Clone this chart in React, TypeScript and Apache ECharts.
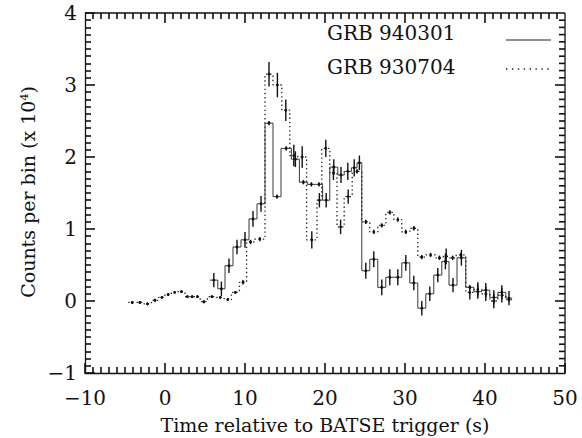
import React, { useEffect, useRef } from "react";
import * as echarts from "echarts";

const FONT = '"DejaVu Serif", "Liberation Serif", serif';
const INK = "#111";
const TICK_W = 1.6;
const MAJOR_LEN = 10;
const MINOR_LEN = 6;

// Axis ticks (major), each major interval is split into ten minor steps
const xTicks = [-10, 0, 10, 20, 30, 40, 50];
const yTicks = [-1, 0, 1, 2, 3, 4];
const minorSplit = 10;

// GRB 940301: bin edges (s), counts per bin (x 10^4), 1-sigma errors
const grb940301Edges = [
  5.6, 6.6, 7.5, 8.5, 9.5, 10.5, 11.5, 12.5, 13.5, 14.5, 15.8, 16.8, 17.8, 18.8, 19.7, 20.6, 21.6, 22.4, 23.3, 24.0,
  24.6, 25.6, 26.6, 27.6, 28.6, 29.6, 30.6, 31.6, 32.6, 33.6, 34.6, 35.5, 36.5, 37.6, 38.6, 39.6, 40.6, 41.6, 42.6, 43.4,
];
const grb940301Counts = [
  0.29, 0.17, 0.49, 0.75, 0.85, 1.14, 1.35, 2.47, 1.45, 2.12, 1.97, 1.65, 1.62, 1.62, 1.4, 1.86, 1.75, 1.8, 1.85, 1.92,
  0.42, 0.58, 0.19, 0.33, 0.33, 0.53, 0.25, -0.1, 0.1, 0.36, 0.55, 0.22, 0.6, 0.19, 0.13, 0.15, 0.05, 0.12, 0.04,
];
const grb940301Errors = [
  0.1, 0.1, 0.1, 0.1, 0.11, 0.11, 0.11, 0.03, 0.03, 0.03, 0.11, 0.03, 0.03, 0.03, 0.1, 0.11, 0.11, 0.12, 0.12, 0.1,
  0.11, 0.11, 0.11, 0.11, 0.11, 0.11, 0.1, 0.1, 0.1, 0.1, 0.11, 0.1, 0.11, 0.03, 0.1, 0.1, 0.1, 0.1, 0.1,
];

// GRB 930704: bin edges (s), counts per bin (x 10^4), 1-sigma errors
const grb930704Edges = [
  -4.6, -3.6, -2.7, -1.7, -0.8, 0.0, 0.8, 1.6, 2.5, 3.1, 3.7, 4.4, 5.3, 6.4, 7.4, 8.3, 9.3, 10.2, 11.2, 12.5, 13.5,
  14.6, 15.6, 16.6, 17.7, 19.0, 19.6, 20.6, 21.5, 22.4, 23.4, 24.6, 25.6, 26.6, 27.6, 28.6, 29.6, 30.6, 31.6, 32.6,
  33.8, 34.8, 35.5, 36.4, 37.6, 38.6, 39.6, 40.6, 41.6, 42.6, 43.4,
];
const grb930704Counts = [
  -0.02, -0.02, -0.04, 0.01, 0.05, 0.09, 0.12, 0.13, 0.06, 0.06, 0.06, -0.01, 0.06, 0.05, 0.02, 0.12, 0.26, 0.82, 0.86,
  3.15, 3.0, 2.65, 2.02, 2.0, 0.85, 1.4, 2.12, 1.78, 1.03, 1.45, 1.8, 1.1, 0.96, 1.05, 1.23, 1.13, 0.96, 1.01, 0.61,
  0.64, 0.6, 0.62, 0.6, 0.64, 0.12, 0.16, 0.1, 0.0, 0.08, 0.02,
];
const grb930704Errors = [
  0.02, 0.02, 0.02, 0.02, 0.02, 0.02, 0.02, 0.02, 0.02, 0.02, 0.02, 0.02, 0.02, 0.02, 0.02, 0.02, 0.03, 0.03, 0.03,
  0.17, 0.17, 0.15, 0.15, 0.15, 0.12, 0.1, 0.12, 0.1, 0.1, 0.1, 0.03, 0.03, 0.03, 0.03, 0.03, 0.03, 0.03, 0.03, 0.03,
  0.03, 0.03, 0.11, 0.03, 0.03, 0.1, 0.1, 0.1, 0.1, 0.1, 0.03,
];

const legendNames = ["GRB 940301", "GRB 930704"];

// Histogram outline: each bin is a flat segment from its left edge to its right edge
function stepOutline(edges: number[], counts: number[]) {
  const pts: number[][] = [];
  counts.forEach((v, i) => {
    pts.push([edges[i], v], [edges[i + 1], v]);
  });
  return pts;
}

function binErrors(edges: number[], counts: number[], errs: number[]) {
  return counts.map((v, i) => [(edges[i] + edges[i + 1]) / 2, v, errs[i]]);
}

function errorBarSeries(data: number[][]) {
  return {
    type: "custom",
    data,
    encode: { x: 0, y: 1 },
    silent: true,
    z: 5,
    renderItem: (_params: any, api: any) => {
      const x = api.value(0);
      const y = api.value(1);
      const e = api.value(2);
      const top = api.coord([x, y + e]);
      const bot = api.coord([x, y - e]);
      const c = api.coord([x, y]);
      return {
        type: "group",
        children: [
          {
            type: "line",
            shape: { x1: top[0], y1: top[1], x2: bot[0], y2: bot[1] },
            style: { stroke: INK, lineWidth: 1.4 },
          },
          { type: "circle", shape: { cx: c[0], cy: c[1], r: 1.4 }, style: { fill: INK } },
        ],
      };
    },
  };
}

// Top and right sides of the frame, with the same inward ticks as the bottom and left axes
function mirroredFrameSeries() {
  const xMin = xTicks[0];
  const xMax = xTicks[xTicks.length - 1];
  const yMin = yTicks[0];
  const yMax = yTicks[yTicks.length - 1];
  const xMinor = (xTicks[1] - xTicks[0]) / minorSplit;
  const yMinor = (yTicks[1] - yTicks[0]) / minorSplit;
  return {
    type: "custom",
    data: [[0, 0]],
    encode: { x: 0, y: 1 },
    silent: true,
    z: 6,
    renderItem: (_params: any, api: any) => {
      const lo = api.coord([xMin, yMin]);
      const hi = api.coord([xMax, yMax]);
      const children: any[] = [
        { type: "line", shape: { x1: lo[0], y1: hi[1], x2: hi[0], y2: hi[1] }, style: { stroke: INK, lineWidth: 1.3 } },
        { type: "line", shape: { x1: hi[0], y1: hi[1], x2: hi[0], y2: lo[1] }, style: { stroke: INK, lineWidth: 1.3 } },
      ];
      const nx = Math.round((xMax - xMin) / xMinor);
      for (let i = 1; i < nx; i++) {
        const px = api.coord([xMin + i * xMinor, yMin])[0];
        const len = i % minorSplit === 0 ? MAJOR_LEN : MINOR_LEN;
        children.push({
          type: "line",
          shape: { x1: px, y1: hi[1], x2: px, y2: hi[1] + len },
          style: { stroke: INK, lineWidth: TICK_W },
        });
      }
      const ny = Math.round((yMax - yMin) / yMinor);
      for (let j = 1; j < ny; j++) {
        const py = api.coord([xMin, yMin + j * yMinor])[1];
        const len = j % minorSplit === 0 ? MAJOR_LEN : MINOR_LEN;
        children.push({
          type: "line",
          shape: { x1: hi[0], y1: py, x2: hi[0] - len, y2: py },
          style: { stroke: INK, lineWidth: TICK_W },
        });
      }
      return { type: "group", children };
    },
  };
}

export default function App() {
  const ref = useRef<HTMLDivElement>(null);

  useEffect(() => {
    if (!ref.current) return;
    const chart = echarts.init(ref.current, null, { renderer: "svg" });

    const signed = (v: number) => (v < 0 ? "\u2212" + Math.abs(v) : String(v));
    const labelStyle = { show: true, color: INK, fontFamily: FONT, fontSize: 20, formatter: signed };
    const axisParts = {
      axisLine: { show: true, onZero: false, lineStyle: { color: INK, width: 1.3 } },
      axisTick: { show: true, inside: true, length: MAJOR_LEN, lineStyle: { color: INK, width: TICK_W } },
      minorTick: { show: true, splitNumber: minorSplit, length: MINOR_LEN, lineStyle: { color: INK, width: TICK_W } },
      splitLine: { show: false },
      minorSplitLine: { show: false },
    };

    chart.setOption({
      animation: false,
      grid: { left: 85, right: 17, top: 13, bottom: 65 },
      xAxis: {
        type: "value",
        min: xTicks[0],
        max: xTicks[xTicks.length - 1],
        interval: xTicks[1] - xTicks[0],
        ...axisParts,
        axisLabel: { ...labelStyle, margin: 15 },
      },
      yAxis: {
        type: "value",
        min: yTicks[0],
        max: yTicks[yTicks.length - 1],
        interval: yTicks[1] - yTicks[0],
        ...axisParts,
        axisLabel: { ...labelStyle, margin: 8 },
      },
      series: [
        {
          name: legendNames[0],
          type: "line",
          data: stepOutline(grb940301Edges, grb940301Counts),
          showSymbol: false,
          lineStyle: { color: "#222", width: 0.9 },
          z: 3,
        },
        {
          name: legendNames[1],
          type: "line",
          data: stepOutline(grb930704Edges, grb930704Counts),
          showSymbol: false,
          lineStyle: { color: "#222", width: 1.3, type: [1.4, 2.8] },
          z: 3,
        },
        errorBarSeries(binErrors(grb940301Edges, grb940301Counts, grb940301Errors)),
        errorBarSeries(binErrors(grb930704Edges, grb930704Counts, grb930704Errors)),
        mirroredFrameSeries(),
      ],
      graphic: [
        {
          type: "text",
          x: 325,
          y: 425,
          style: {
            text: "Time relative to BATSE trigger (s)",
            font: `19px ${FONT}`,
            fill: INK,
            textAlign: "center",
            textVerticalAlign: "middle",
          },
        },
        {
          type: "text",
          x: 28,
          y: 192,
          rotation: Math.PI / 2,
          style: {
            text: "Counts per bin (x 10{sup|4})",
            font: `19px ${FONT}`,
            fill: INK,
            textAlign: "center",
            textVerticalAlign: "middle",
            rich: { sup: { font: `11px ${FONT}`, fill: INK, verticalAlign: "top", padding: [0, 0, 8, 0] } },
          },
        },
        {
          type: "text",
          x: 327,
          y: 33,
          style: { text: legendNames[0], font: `20px ${FONT}`, fill: INK, textVerticalAlign: "middle" },
        },
        {
          type: "text",
          x: 327,
          y: 67,
          style: { text: legendNames[1], font: `20px ${FONT}`, fill: INK, textVerticalAlign: "middle" },
        },
        {
          type: "line",
          shape: { x1: 506, y1: 40, x2: 551, y2: 40 },
          style: { stroke: "#222", lineWidth: 1 },
        },
        {
          type: "line",
          shape: { x1: 506, y1: 69, x2: 551, y2: 69 },
          style: { stroke: "#222", lineWidth: 1.3, lineDash: [1.4, 4.5] },
        },
      ],
    });

    return () => chart.dispose();
  }, []);

  return <div ref={ref} style={{ position: "absolute", left: 0, top: 0, width: 582, height: 438 }} />;
}
